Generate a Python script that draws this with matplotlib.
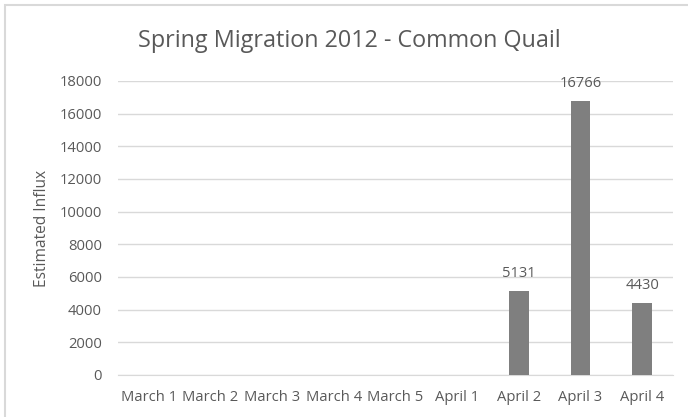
import matplotlib.pyplot as plt
from matplotlib.patches import Rectangle

# 날짜별 추정 유입 개체 수
dates = ["March 1", "March 2", "March 3", "March 4", "March 5",
         "April 1", "April 2", "April 3", "April 4"]
influx = [0, 0, 0, 0, 0, 0, 5131, 16766, 4430]
y_ticks = [0, 2000, 4000, 6000, 8000, 10000, 12000, 14000, 16000, 18000]

plt.rcParams['font.family'] = ['Open Sans', 'DejaVu Sans']
text_color = '#595959'
W, H = 688, 417

fig = plt.figure(figsize=(W / 100, H / 100), dpi=100)
# 플롯 영역: 픽셀 단위로 잡은 뒤 figure 비율로 변환
left, right, top, bottom = 118, 673, 81, 375
ax = fig.add_axes([left / W, 1 - bottom / H, (right - left) / W, (bottom - top) / H])

# 차트 바깥 테두리 (오른쪽/아래는 그림 밖으로 이어짐)
fig.patches.append(Rectangle((5 / W, -0.1), 1.2, 1 - 5 / H + 0.1,
                             transform=fig.transFigure, fill=False,
                             edgecolor='#d9d9d9', linewidth=1.5))

x = range(len(dates))
ax.bar(x, influx, width=0.32, color='#7f7f7f', zorder=3)
for xi, v in zip(x, influx):
    if v > 0:
        ax.annotate(str(v), (xi, v), xytext=(0, 7), textcoords='offset points',
                    ha='center', va='bottom', fontsize=10.6, color=text_color)

ax.set_xlim(-0.5, len(dates) - 0.5)
ax.set_ylim(0, 18000)
ax.set_yticks(y_ticks)
ax.set_yticklabels([str(t) for t in y_ticks])
ax.set_xticks(list(x))
ax.set_xticklabels(dates)
ax.tick_params(axis='both', length=0, labelsize=10.6, labelcolor=text_color)
ax.tick_params(axis='y', pad=11.5)
ax.tick_params(axis='x', pad=11)
ax.grid(axis='y', color='#d9d9d9', linewidth=1, zorder=0)
for side in ['top', 'right', 'left']:
    ax.spines[side].set_visible(False)
ax.spines['bottom'].set_color('#d9d9d9')

fig.text(42 / W, 1 - 228 / H, 'Estimated Influx', rotation=90, ha='center',
         va='center', fontsize=11.2, color=text_color)
fig.text(349 / W, 1 - 47 / H, 'Spring Migration 2012 - Common Quail',
         ha='center', va='baseline', fontsize=16.8, color=text_color)

fig.savefig('out.png', dpi=100)
